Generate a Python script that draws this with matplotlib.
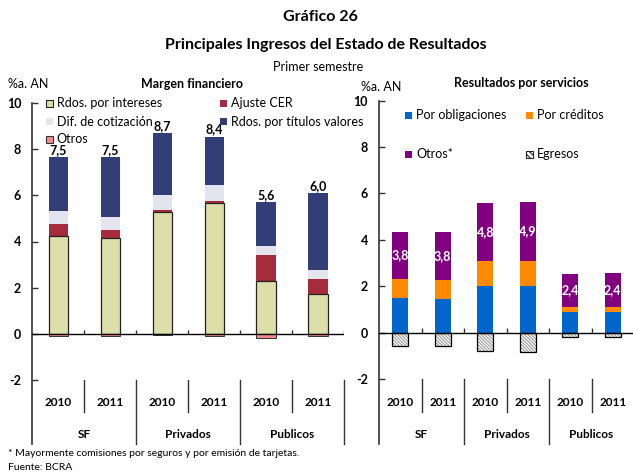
import matplotlib
matplotlib.use("Agg")
import matplotlib.pyplot as plt
from matplotlib.patches import Rectangle
import numpy as np

plt.rcParams['font.family'] = ['Lato', 'DejaVu Sans']
plt.rcParams['axes.unicode_minus'] = False
plt.rcParams['hatch.linewidth'] = 0.8

W, H = 633, 475

# categories
years = ['2010', '2011', '2010', '2011', '2010', '2011']
groups = ['SF', 'Privados', 'Publicos']

# Margen financiero (%a. AN)
intereses = [4.24, 4.17, 5.28, 5.67, 2.28, 1.72]
ajuste_cer = [0.53, 0.33, 0.09, 0.09, 1.14, 0.66]
dif_cotizacion = [0.55, 0.56, 0.65, 0.69, 0.40, 0.40]
titulos = [2.33, 2.59, 2.68, 2.08, 1.89, 3.32]
otros_mf = [-0.09, -0.10, -0.04, -0.10, -0.16, -0.10]
labels_mf = ['7,5', '7,5', '8,7', '8,4', '5,6', '6,0']

# Resultados por servicios (%a. AN)
obligaciones = [1.50, 1.45, 2.00, 2.00, 0.89, 0.89]
creditos = [0.80, 0.81, 1.08, 1.08, 0.21, 0.21]
otros_srv = [2.06, 2.10, 2.49, 2.57, 1.43, 1.48]
egresos = [-0.56, -0.57, -0.80, -0.84, -0.17, -0.17]
labels_srv = ['3,8', '3,8', '4,8', '4,9', '2,4', '2,4']

C_INT = '#dcdfa8'
C_CER = '#a62b3c'
C_DIF = '#e4e4ef'
C_TIT = '#313f76'
C_OTR = '#f58a8a'
C_OBL = '#0066cc'
C_CRE = '#ff8a00'
C_OSV = '#800080'
HATCH = '\\' * 10


def fx(px):
    return px / W


def fy(py):
    return 1 - py / H


def style_axis(ax, top_px, bottom_px):
    n = len(years)
    x = np.arange(n)
    ax.set_xlim(-0.5, n - 0.5)
    ax.set_ylim(-2, 10)
    ax.set_yticks(range(-2, 11, 2))
    for s in ax.spines.values():
        s.set_visible(False)
    ax.set_xticks([])
    ax.tick_params(axis='y', direction='in', length=4, width=1, pad=8,
                   labelsize=9, color='#333333')
    for lab in ax.get_yticklabels():
        lab.set_fontweight('bold')
    ax.axhline(0, color='black', lw=1, zorder=5)
    # spine extended through the category rows
    h = bottom_px - top_px
    ext = -(444 - bottom_px) / h
    row = -(412 - bottom_px) / h
    ax.plot([-0.5, -0.5], [1, ext], color='#333333', lw=1.2,
            transform=ax.get_xaxis_transform(), clip_on=False)
    # small ticks on the zero line
    ax.vlines(x + 0.5, 0, 0.18, color='#333333', lw=1, zorder=5)
    # category separators
    for b in x + 0.5:
        y1 = ext if int(b + 0.5) % 2 == 0 else row
        ax.plot([b, b], [0, y1], color='#333333', lw=1,
                transform=ax.get_xaxis_transform(), clip_on=False)
    yr_y = -(403 - bottom_px) / h
    gr_y = -(435 - bottom_px) / h
    for i, yv in enumerate(years):
        ax.text(x[i], yr_y, yv, transform=ax.get_xaxis_transform(),
                ha='center', va='center', fontsize=8.5, fontweight='bold')
    for j, g in enumerate(groups):
        ax.text(2 * j + 0.5, gr_y, g, transform=ax.get_xaxis_transform(),
                ha='center', va='center', fontsize=8.5, fontweight='bold')


def legend_item(fig, xp, yp, color, label, edge=None, hatch=None):
    s = 7
    fig.patches.append(Rectangle((fx(xp), fy(yp + s / 2)), s / W, s / H,
                                 transform=fig.transFigure, facecolor=color,
                                 edgecolor=edge if edge else color,
                                 lw=0.8 if edge else 0, hatch=hatch))
    fig.text(fx(xp + 11), fy(yp), label, fontsize=9, va='center', ha='left')


fig = plt.figure(figsize=(W / 100, H / 100), dpi=100)

fig.text(fx(320), fy(17), 'Gráfico 26', ha='center', va='center',
         fontsize=11.5, fontweight='bold')
fig.text(fx(326), fy(45), 'Principales Ingresos del Estado de Resultados',
         ha='center', va='center', fontsize=11.5, fontweight='bold')
fig.text(fx(318), fy(67), 'Primer semestre', ha='center', va='center',
         fontsize=9)

# ---- left panel
ax1 = fig.add_axes([fx(32.3), fy(380), fx(344 - 32.3), (380 - 103) / H])
style_axis(ax1, 103, 380)
x = np.arange(len(years))
bw = 0.37
b0 = np.zeros(len(x))
ax1.bar(x, intereses, bw, bottom=b0, color=C_INT, edgecolor='#222222',
        lw=0.9, zorder=3)
b1 = b0 + np.array(intereses)
ax1.bar(x, ajuste_cer, bw, bottom=b1, color=C_CER, lw=0, zorder=2)
b2 = b1 + np.array(ajuste_cer)
ax1.bar(x, dif_cotizacion, bw, bottom=b2, color=C_DIF, lw=0, zorder=2)
b3 = b2 + np.array(dif_cotizacion)
ax1.bar(x, titulos, bw, bottom=b3, color=C_TIT, lw=0, zorder=2)
top = b3 + np.array(titulos)
ax1.bar(x, otros_mf, bw, color=C_OTR, edgecolor='#333333', lw=0.7, zorder=3)
for xi, t, lab in zip(x, top, labels_mf):
    ax1.annotate(lab, (xi, t), xytext=(0, 1), textcoords='offset points',
                 ha='center', va='bottom', fontsize=9, fontweight='bold')

fig.text(fx(8), fy(84), '%a. AN', fontsize=9, va='center', ha='left')
fig.text(fx(192), fy(84), 'Margen financiero', fontsize=9, va='center',
         ha='center', fontweight='bold')
legend_item(fig, 45.7, 103, C_INT, 'Rdos. por intereses', edge='#222222')
legend_item(fig, 45.7, 121.7, C_DIF, 'Dif. de cotización')
legend_item(fig, 45.7, 139, C_OTR, 'Otros', edge='#333333')
legend_item(fig, 220, 103, C_CER, 'Ajuste CER')
legend_item(fig, 220, 121.7, C_TIT, 'Rdos. por títulos valores')

# ---- right panel
ax2 = fig.add_axes([fx(379), fy(379), fx(634 - 379), (379 - 100.7) / H])
style_axis(ax2, 100.7, 379)
s0 = np.zeros(len(x))
ax2.bar(x, obligaciones, bw, bottom=s0, color=C_OBL, lw=0, zorder=2)
s1 = s0 + np.array(obligaciones)
ax2.bar(x, creditos, bw, bottom=s1, color=C_CRE, lw=0, zorder=2)
s2 = s1 + np.array(creditos)
ax2.bar(x, otros_srv, bw, bottom=s2, color=C_OSV, lw=0, zorder=2)
ax2.bar(x, egresos, bw, color='white', edgecolor='#9a9a9a', lw=0,
        hatch=HATCH, zorder=2)
ax2.bar(x, egresos, bw, fill=False, edgecolor='black', lw=0.9, zorder=3)
for xi, b, v, lab in zip(x, s2, otros_srv, labels_srv):
    ax2.text(xi, b + v / 2, lab, ha='center', va='center', fontsize=9,
             fontweight='bold', color='white', zorder=6)

fig.text(fx(360.7), fy(87), '%a. AN', fontsize=9, va='center', ha='left')
fig.text(fx(521), fy(83), 'Resultados por servicios', fontsize=9,
         va='center', ha='center', fontweight='bold')
legend_item(fig, 405.3, 115, C_OBL, 'Por obligaciones')
legend_item(fig, 525.7, 115, C_CRE, 'Por créditos')
legend_item(fig, 405.3, 154.3, C_OSV, 'Otros*')
legend_item(fig, 525.7, 154.3, 'white', 'Egresos', edge='#222222',
            hatch='\\' * 6)

fig.text(fx(8), fy(453), '* Mayormente comisiones por seguros y por emisión de tarjetas.',
         fontsize=7.5, va='center', ha='left')
fig.text(fx(8), fy(468), 'Fuente: BCRA', fontsize=7.5, va='center', ha='left')

fig.savefig('out.png', dpi=100)
